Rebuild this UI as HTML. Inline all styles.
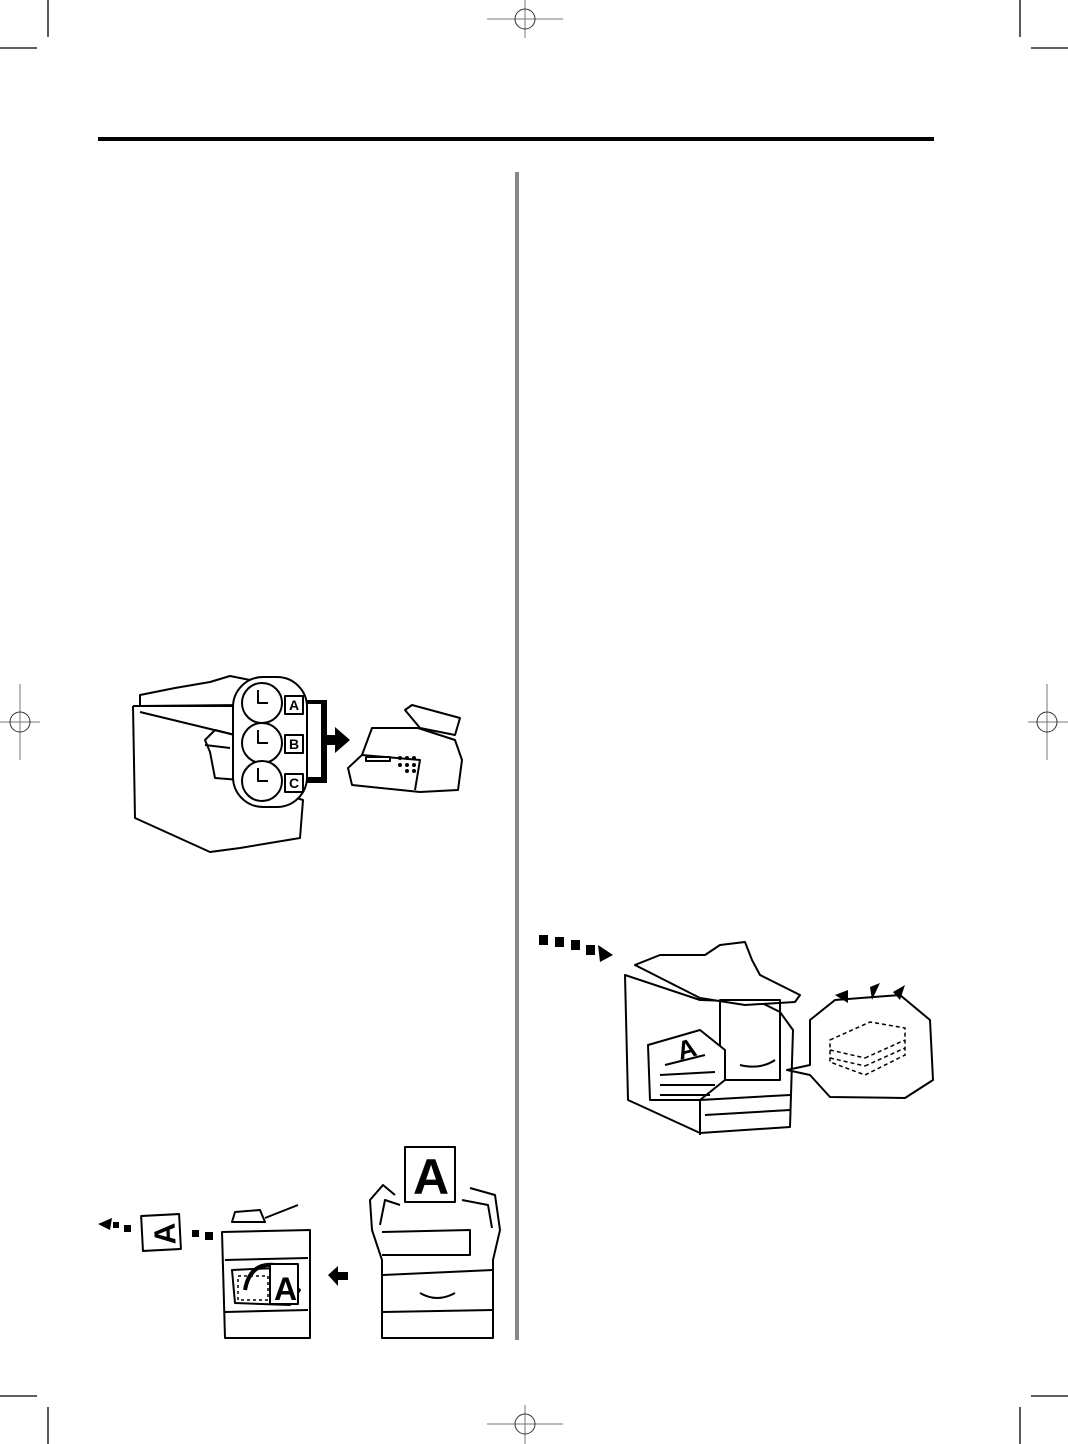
<!DOCTYPE html>
<html><head><meta charset="utf-8"><style>
html,body{margin:0;padding:0;background:#fff;}
svg{display:block;}
text{font-family:"Liberation Sans",sans-serif;font-weight:bold;}
</style></head><body>
<svg width="1068" height="1444" viewBox="0 0 1068 1444" xmlns="http://www.w3.org/2000/svg">
<g stroke="#000" stroke-width="1.3" fill="none">
<line x1="48" y1="0" x2="48" y2="37"/><line x1="0" y1="48" x2="37" y2="48"/>
<line x1="1020" y1="0" x2="1020" y2="37"/><line x1="1031" y1="48" x2="1068" y2="48"/>
<line x1="48" y1="1407" x2="48" y2="1444"/><line x1="0" y1="1396" x2="37" y2="1396"/>
<line x1="1020" y1="1407" x2="1020" y2="1444"/><line x1="1031" y1="1396" x2="1068" y2="1396"/>
</g>
<g stroke="#777" stroke-width="1" fill="none">
<line x1="487" y1="19" x2="563" y2="19"/><line x1="525" y1="0" x2="525" y2="38"/><circle cx="525" cy="19" r="10" stroke="#333"/>
<line x1="487" y1="1424" x2="563" y2="1424"/><line x1="525" y1="1405" x2="525" y2="1444"/><circle cx="525" cy="1424" r="10" stroke="#333"/>
<line x1="0" y1="722" x2="40" y2="722"/><line x1="20" y1="684" x2="20" y2="760"/><circle cx="20" cy="722" r="10" stroke="#333"/>
<line x1="1028" y1="722" x2="1068" y2="722"/><line x1="1047" y1="684" x2="1047" y2="760"/><circle cx="1047" cy="722" r="10" stroke="#333"/>
</g>
<rect x="98" y="137" width="836" height="4" fill="#000"/>
<rect x="515" y="172" width="4" height="1168" fill="#888"/>

<!-- Fax illustration -->
<g stroke="#000" stroke-width="2" fill="#fff" stroke-linejoin="round">
<path d="M140,695 L175,688 L210,682 L230,676 L250,680 L240,705 L140,706 Z"/>
<path d="M133,706 L135,818 L210,852 L240,848 L300,838 L303,800 L240,780 L215,778 L210,752 L205,740 L215,730 L235,735 L240,706 L133,706"/>
<line x1="140" y1="712" x2="235" y2="735"/>
<line x1="205" y1="745" x2="230" y2="748"/>
<rect x="233" y="677" width="74" height="130" rx="30"/>
<circle cx="262" cy="703" r="20"/><circle cx="262" cy="743" r="20"/><circle cx="262" cy="781" r="20"/>
<path d="M258,690 v13 h10 M258,730 v13 h10 M258,768 v13 h10" fill="none"/>
<rect x="285" y="696" width="18" height="18"/><rect x="285" y="735" width="18" height="18"/><rect x="285" y="774" width="18" height="18"/>
</g>
<text x="294" y="710" font-size="14" text-anchor="middle" font-weight="normal">A</text>
<text x="294" y="749" font-size="14" text-anchor="middle" font-weight="normal">B</text>
<text x="294" y="788" font-size="14" text-anchor="middle" font-weight="normal">C</text>
<path d="M307,700 h20 v35 h8 v-8 l15,13 l-15,13 v-8 h-8 v38 h-20 v-6 h14 v-73 h-14 Z" fill="#000"/>
<g stroke="#000" stroke-width="2" fill="#fff" stroke-linejoin="round">
<path d="M405,710 L412,705 L460,718 L455,735 L420,728 Z"/>
<path d="M372,728 L418,728 L455,740 L462,760 L458,790 L420,792 L352,785 L348,768 L362,755 Z"/>
<path d="M362,755 L420,760 L415,790" fill="none"/>
<rect x="366" y="757" width="24" height="4"/>
</g>
<g fill="#000"><circle cx="400" cy="758" r="2"/><circle cx="407" cy="758" r="2"/><circle cx="414" cy="758" r="2"/><circle cx="400" cy="765" r="2"/><circle cx="407" cy="765" r="2"/><circle cx="414" cy="765" r="2"/><circle cx="407" cy="771" r="2"/><circle cx="414" cy="771" r="2"/></g>

<!-- Right copier -->
<g fill="#000">
<rect x="539" y="935" width="9" height="10"/><rect x="555" y="937" width="9" height="10"/><rect x="571" y="940" width="9" height="10"/><rect x="586" y="945" width="9" height="10"/>
<path d="M598,945 L613,955 L600,962 Z"/>
</g>
<g stroke="#000" stroke-width="2" fill="#fff" stroke-linejoin="round">
<path d="M625,975 L628,1100 L700,1133 L790,1127 L793,1030 L780,1012 L760,1002 L700,1000 L625,975 Z"/>
<path d="M635,965 L660,955 L705,955 L720,945 L745,942 L752,960 L760,975 L800,995 L795,1002 L745,1005 L700,998 Z"/>
<rect x="720" y="1000" width="60" height="80" fill="none"/>
<path d="M648,1045 L700,1030 L725,1050 L725,1080 L700,1100 L650,1100 Z" />
<path d="M665,1065 L705,1055 M660,1075 L715,1072 M660,1085 L715,1085 M660,1095 L710,1095" fill="none"/>
<path d="M700,1135 L700,1100 L790,1095 M705,1115 L790,1110" fill="none"/>
<path d="M740,1065 Q760,1070 775,1060" fill="none"/>
<path d="M810,1020 L835,1000 L900,995 L930,1020 L933,1080 L905,1098 L830,1097 L810,1075 L787,1070 L810,1065 Z"/>
</g>
<text x="680" y="1060" font-size="26" transform="rotate(-15 680 1060)">A</text>
<g stroke="#000" stroke-width="1.5" stroke-dasharray="4,3" fill="none">
<path d="M830,1040 L870,1022 L905,1028 L905,1055 L865,1075 L830,1062 Z"/>
<path d="M830,1050 L865,1058 M830,1058 L865,1066 M865,1058 L905,1040 M865,1066 L905,1048"/>
</g>
<g fill="#000"><path d="M835,995 L848,990 L848,1003 Z"/><path d="M870,987 L880,983 L872,1000 Z"/><path d="M893,992 L905,985 L900,1000 Z"/></g>

<!-- Bottom-left -->
<g fill="#000">
<path d="M98,1224 L112,1218 L110,1230 Z"/><rect x="113" y="1222" width="6" height="6"/><rect x="124" y="1225" width="7" height="7"/>
<rect x="192" y="1230" width="7" height="7"/><rect x="205" y="1232" width="8" height="8"/>
<path d="M328,1275 L338,1266 L338,1272 L348,1272 L348,1280 L338,1280 L338,1286 Z"/>
</g>
<g stroke="#000" stroke-width="2" fill="#fff" stroke-linejoin="round">
<rect x="142" y="1215" width="38" height="35" transform="rotate(-3 161 1232)"/>
<path d="M222,1232 L310,1230 L310,1338 L225,1338 Z"/>
<path d="M232,1222 L235,1212 L260,1210 L265,1222 Z M265,1218 L298,1205" fill="none"/>
<path d="M225,1260 L308,1258 M225,1312 L308,1310" fill="none"/>
<path d="M232,1270 L275,1268 L300,1290 L290,1305 L235,1303 Z"/>
<path d="M245,1290 Q250,1262 275,1265" fill="none" stroke-width="4"/>
<rect x="270" y="1264" width="28" height="40"/>
<path d="M395,1195 L383,1185 L370,1200 L372,1230 L382,1260 L382,1338 L493,1338 L493,1260 L500,1230 L495,1195 L470,1188" fill="none"/>
<path d="M400,1205 L385,1200 L380,1225 M462,1200 L488,1205 L492,1228" fill="none"/>
<path d="M382,1232 L470,1230 L470,1255 L382,1255" fill="none"/>
<path d="M383,1275 L493,1270 M383,1312 L493,1310" fill="none"/>
<path d="M420,1293 Q437,1303 455,1293" fill="none"/>
<rect x="405" y="1147" width="50" height="55"/>
</g>
<g stroke="#000" stroke-width="1.5" stroke-dasharray="3,3" fill="none"><rect x="238" y="1276" width="30" height="24"/></g>
<text x="148" y="1246" font-size="30" transform="rotate(-93 161 1232)">A</text>
<text x="274" y="1300" font-size="32">A</text>
<text x="413" y="1194" font-size="50">A</text>
</svg>
</body></html>
